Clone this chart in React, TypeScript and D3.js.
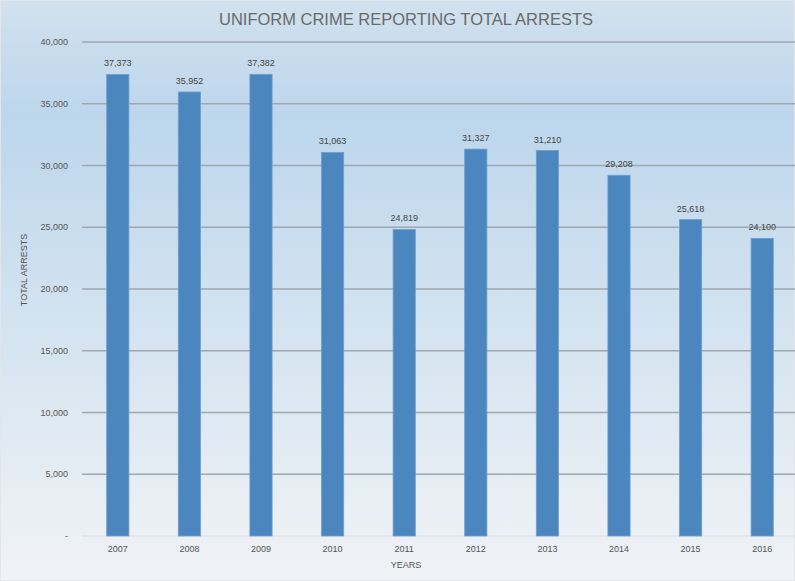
import React from "react";
import * as d3 from "d3";

const years = ["2007", "2008", "2009", "2010", "2011", "2012", "2013", "2014", "2015", "2016"];
const arrests = [37373, 35952, 37382, 31063, 24819, 31327, 31210, 29208, 25618, 24100];
const yTicks = [0, 5000, 10000, 15000, 20000, 25000, 30000, 35000, 40000];

const W = 795;
const H = 581;

export default function App() {
  const x = d3.scaleBand<string>().domain(years).range([82, 798]).paddingInner(0.69).paddingOuter(0.345);
  const y = d3.scaleLinear().domain([0, 40000]).range([536, 42]);
  const fmt = d3.format(",");
  const font = "'Liberation Sans', Arial, sans-serif";

  return (
    <svg width={W} height={H} style={{ position: "absolute", left: 0, top: 0 }} fontFamily={font}>
      <defs>
        <linearGradient id="bg" x1="0" y1="0" x2="0" y2="1">
          <stop offset="0" stopColor="#d2e1ef" />
          <stop offset="0.2" stopColor="#bdd6ec" />
          <stop offset="0.55" stopColor="#d3e3f0" />
          <stop offset="1" stopColor="#f1f3f6" />
        </linearGradient>
      </defs>
      <rect x={0} y={0} width={W} height={H} fill="url(#bg)" />
      <rect x={0.5} y={0.5} width={W - 1} height={H - 1} fill="none" stroke="#e2e6ea" />
      <text x={406} y={25} textAnchor="middle" fontSize={16.5} fill="#6a6a6a">
        UNIFORM CRIME REPORTING TOTAL ARRESTS
      </text>
      {yTicks.map((t) => (
        <g key={t}>
          <line
            x1={82}
            x2={W}
            y1={y(t)}
            y2={y(t)}
            stroke={t === 0 ? "#d9dee4" : "#9fa7af"}
            strokeWidth={t === 0 ? 1 : 1.6}
          />
          <text x={68} y={y(t) + 3} textAnchor="end" fontSize={9} fill="#555">
            {t === 0 ? "-" : fmt(t)}
          </text>
        </g>
      ))}
      {years.map((yr, i) => (
        <g key={yr}>
          <rect
            x={x(yr)!}
            y={y(arrests[i])}
            width={x.bandwidth()}
            height={y(0) - y(arrests[i])}
            fill="#4b86be"
            stroke="#6b9fd0"
            strokeWidth={0.8}
          />
          <text
            x={x(yr)! + x.bandwidth() / 2}
            y={y(arrests[i]) - 8}
            textAnchor="middle"
            fontSize={9}
            fill="#444"
          >
            {fmt(arrests[i])}
          </text>
          <text x={x(yr)! + x.bandwidth() / 2} y={552} textAnchor="middle" fontSize={9} fill="#555">
            {yr}
          </text>
        </g>
      ))}
      <text x={406} y={568} textAnchor="middle" fontSize={9} fill="#555">
        YEARS
      </text>
      <text
        transform={`translate(27, 270) rotate(-90)`}
        textAnchor="middle"
        fontSize={9}
        fill="#555"
      >
        TOTAL ARRESTS
      </text>
    </svg>
  );
}
